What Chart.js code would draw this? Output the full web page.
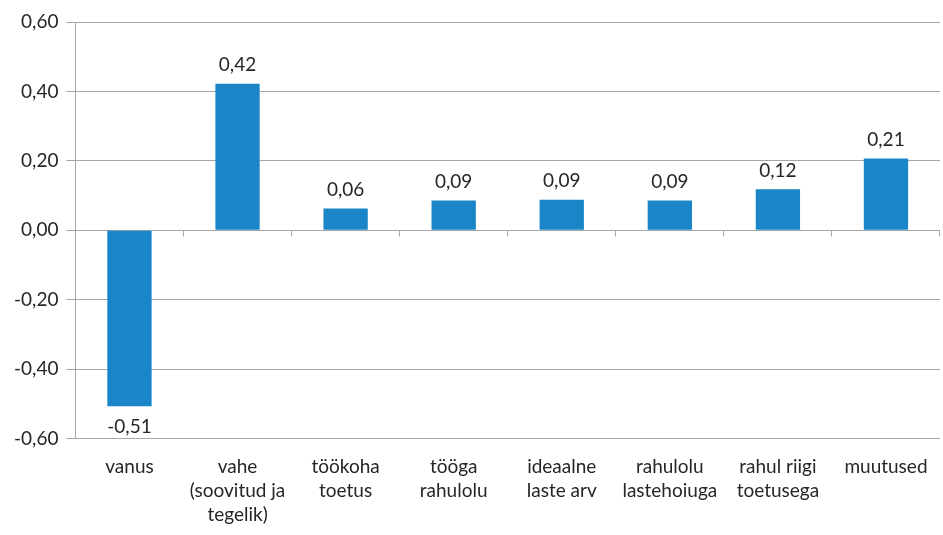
<!DOCTYPE html>
<html>
<head>
<meta charset="utf-8">
<script src="https://cdn.jsdelivr.net/npm/chart.js@4/dist/chart.umd.min.js"></script>
<style>
  html, body { margin: 0; padding: 0; background: #fff; }
  #wrap { width: 943px; height: 535px; }
</style>
</head>
<body>
<div id="wrap"><canvas id="bar-chart" width="943" height="535"></canvas></div>
<script>
var categories = [
     ['vanus'],
     ['vahe', '(soovitud ja', 'tegelik)'],
     ['töökoha', 'toetus'],
     ['tööga', 'rahulolu'],
     ['ideaalne', 'laste arv'],
     ['rahulolu', 'lastehoiuga'],
     ['rahul riigi', 'toetusega'],
     ['muutused']
];
var values = [-0.507, 0.422, 0.063, 0.086, 0.088, 0.086, 0.118, 0.207];

var yMin = -0.6, yMax = 0.6, yStep = 0.2;

function fmt(v) {
     var s = (Math.round(v * 100) / 100).toFixed(2);
     if (s === '-0.00') s = '0.00';
     return s.replace('.', ',');
}

// value labels above / below the bars
var valueLabels = {
     id: 'valueLabels',
     afterDatasetsDraw: function (chart) {
          var ctx = chart.ctx;
          var meta = chart.getDatasetMeta(0);
          ctx.save();
          ctx.font = '19px Lato';
          ctx.fillStyle = '#262626';
          ctx.textAlign = 'center';
          meta.data.forEach(function (bar, i) {
               var v = values[i];
               if (v >= 0) {
                    ctx.textBaseline = 'bottom';
                    ctx.fillText(fmt(v), bar.x, bar.y - 9);
               } else {
                    ctx.textBaseline = 'top';
                    ctx.fillText(fmt(v), bar.x, bar.y + 11);
               }
          });
          ctx.restore();
     }
};

// small tick marks on the zero line between categories
var zeroTicks = {
     id: 'zeroTicks',
     afterDraw: function (chart) {
          var ctx = chart.ctx;
          var x = chart.scales.x, y = chart.scales.y;
          var y0 = Math.round(y.getPixelForValue(0)) + 0.5;
          var step = x.getPixelForValue(1) - x.getPixelForValue(0);
          ctx.save();
          ctx.strokeStyle = '#a6a6a6';
          ctx.lineWidth = 1;
          ctx.beginPath();
          for (var i = 0; i < categories.length; i++) {
               var px = Math.round(x.getPixelForValue(i) + step / 2) - 0.5;
               ctx.moveTo(px, y0);
               ctx.lineTo(px, y0 + 6);
          }
          ctx.stroke();
          ctx.restore();
     }
};

var chart = new Chart(document.getElementById('bar-chart'), {
     type: 'bar',
     data: {
          labels: categories,
          datasets: [{
               data: values,
               backgroundColor: '#1a86c8',
               borderWidth: 0,
               categoryPercentage: 1,
               barPercentage: 0.41
          }]
     },
     options: {
          responsive: false,
          animation: false,
          layout: { padding: { left: 6, right: 3, top: 22, bottom: 0 } },
          plugins: {
               legend: { display: false },
               tooltip: { enabled: false }
          },
          scales: {
               x: {
                    grid: { display: false },
                    border: { display: false },
                    ticks: {
                         color: '#262626',
                         font: { family: 'Lato', size: 19, lineHeight: 1.27 },
                         padding: 8,
                         maxRotation: 0,
                         autoSkip: false
                    }
               },
               y: {
                    min: yMin,
                    max: yMax,
                    grid: { color: '#a6a6a6', lineWidth: 1, tickLength: 9 },
                    border: { color: '#a6a6a6', width: 1 },
                    ticks: {
                         stepSize: yStep,
                         color: '#262626',
                         font: { family: 'Lato', size: 19 },
                         padding: 8,
                         callback: function (v) { return fmt(v); }
                    }
               }
          }
     },
     plugins: [valueLabels, zeroTicks]
});
</script>
</body>
</html>
